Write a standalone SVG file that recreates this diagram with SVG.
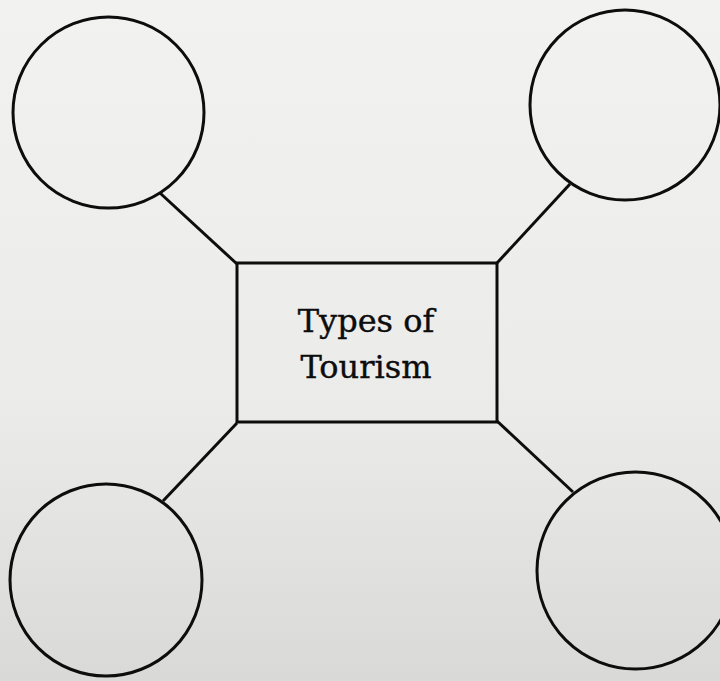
<svg xmlns="http://www.w3.org/2000/svg" width="720" height="681" viewBox="0 0 720 681">
  <defs>
    <linearGradient id="paper" x1="0" y1="0" x2="0" y2="1">
      <stop offset="0" stop-color="#f2f2f1"/>
      <stop offset="0.6" stop-color="#ebebea"/>
      <stop offset="1" stop-color="#d9d9d8"/>
    </linearGradient>
  </defs>
  <style>
    .shape { fill: none; stroke: #0d0d0d; stroke-width: 3; }
    .conn { stroke: #0d0d0d; stroke-width: 3; fill: none; }
    .label { font-family: "DejaVu Serif", "Liberation Serif", serif; font-size: 32px; fill: #0d0d0d; stroke: #0d0d0d; stroke-width: 0.4; text-anchor: middle; }
  </style>
  <rect x="0" y="0" width="720" height="681" fill="url(#paper)"/>
  <g id="connectors">
    <line class="conn" x1="160" y1="193" x2="237" y2="264"/>
    <line class="conn" x1="570" y1="184" x2="497" y2="263"/>
    <line class="conn" x1="163" y1="501" x2="237" y2="423"/>
    <line class="conn" x1="573" y1="492" x2="497" y2="421"/>
  </g>
  <g id="center">
    <rect class="shape" x="237" y="263" width="260" height="159"/>
    <text class="label" x="366" y="332">Types of</text>
    <text class="label" x="366" y="378">Tourism</text>
  </g>
  <g id="circle-top-left">
    <circle class="shape" cx="108.5" cy="112.5" r="95.5"/>
  </g>
  <g id="circle-top-right">
    <circle class="shape" cx="625" cy="105" r="95"/>
  </g>
  <g id="circle-bottom-left">
    <circle class="shape" cx="106" cy="580" r="96"/>
  </g>
  <g id="circle-bottom-right">
    <circle class="shape" cx="635.5" cy="570.5" r="98.5"/>
  </g>
</svg>
